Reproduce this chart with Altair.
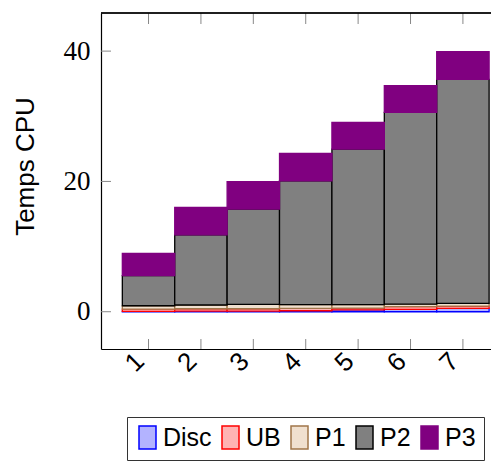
import altair as alt
import pandas as pd

# ---- data ----
categories = [1, 2, 3, 4, 5, 6, 7]
series = ["Disc", "UB", "P1", "P2", "P3"]
disc = [0.05, 0.10, 0.10, 0.15, 0.30, 0.36, 0.52]
ub = [0.35, 0.36, 0.36, 0.37, 0.26, 0.41, 0.35]
p1 = [0.52, 0.57, 0.67, 0.56, 0.52, 0.41, 0.42]
p2 = [4.61, 10.77, 14.63, 19.02, 23.89, 29.42, 34.38]
p3 = [3.43, 4.20, 4.19, 4.20, 4.10, 4.10, 4.23]
y_ticks = [0, 20, 40]

fills = ["#b3b3ff", "#ffb3b3", "#f0e0cf", "#808080", "#800080"]
strokes = ["#0000ff", "#ff0000", "#a0764a", "#000000", "#800080"]

values = {"Disc": disc, "UB": ub, "P1": p1, "P2": p2, "P3": p3}
rows = []
cum = [0.0] * len(categories)
for s_i, s in enumerate(series):
    for i, c in enumerate(categories):
        v = values[s][i]
        rows.append({"series": s, "order": s_i, "cat": c,
                     "lo": c - 0.5, "hi": c + 0.5,
                     "y0": cum[i], "y1": cum[i] + v})
        cum[i] += v
df = pd.DataFrame(rows)

W, H = 390, 336
xdom = [0.093, 7.536]
ydom = [-5.72, 45.85]
xs = alt.Scale(domain=xdom, nice=False, zero=False)
ys = alt.Scale(domain=ydom, nice=False, zero=False)

legend = alt.Legend(
    orient="none", legendX=26, legendY=404, direction="horizontal", title=None,
    symbolType="M-1,-1.35H1V1.35H-1Z", symbolSize=289, symbolStrokeWidth=1.5,
    symbolOpacity=1,
    labelFont="Liberation Sans", labelFontSize=25, labelColor="black",
    labelOffset=3, columnPadding=6, padding=8,
    strokeColor="#333333", fillColor="white", cornerRadius=0, labelLimit=0,
)

bars = alt.Chart(df).mark_bar(strokeWidth=1.3, opacity=1).encode(
    x=alt.X("lo:Q", scale=xs, axis=alt.Axis(
        values=categories, labelAngle=315, labelAlign="center",
        labelBaseline="middle", labelPadding=13, labelOffset=-14,
        labelFont="Liberation Sans", labelFontSize=26, labelColor="black",
        labelOverlap=False, labelBound=False, labelFlush=False,
        ticks=False, tickSize=0, grid=False, domain=True,
        domainColor="black", domainWidth=1.2, title=None)),
    x2="hi:Q",
    y=alt.Y("y0:Q", scale=ys, axis=alt.Axis(
        values=y_ticks, labelFont="Liberation Serif", labelFontSize=27,
        labelColor="black", labelPadding=11, labelAlign="right",
        ticks=False, tickSize=0, grid=False, domain=True,
        domainColor="black", domainWidth=1.2,
        title="Temps CPU", titleFont="Liberation Sans", titleFontSize=26,
        titleFontWeight="normal", titleColor="black", titleAngle=270,
        titleAlign="center", titleBaseline="alphabetic",
        titleX=-68, titleY=153)),
    y2="y1:Q",
    fill=alt.Fill("series:N", scale=alt.Scale(domain=series, range=fills), legend=legend),
    stroke=alt.Stroke("series:N", scale=alt.Scale(domain=series, range=strokes), legend=legend),
    order=alt.Order("order:Q"),
)

ytick_df = pd.DataFrame({"t": y_ticks})
xtick_df = pd.DataFrame({"c": categories})

ytick_rules = alt.Chart(ytick_df).mark_rule(color="#888888", strokeWidth=1).encode(
    y=alt.Y("t:Q", scale=ys), x=alt.value(0), x2=alt.value(10))
xtick_bottom = alt.Chart(xtick_df).mark_rule(color="#888888", strokeWidth=1).encode(
    x=alt.X("c:Q", scale=xs), y=alt.value(H - 10), y2=alt.value(H))
xtick_top = alt.Chart(xtick_df).mark_rule(color="#888888", strokeWidth=1).encode(
    x=alt.X("c:Q", scale=xs), y=alt.value(0), y2=alt.value(11))
top_line = alt.Chart(ytick_df).mark_rule(color="black", strokeWidth=1.2).encode(
    x=alt.value(0), x2=alt.value(W), y=alt.value(0))

chart = alt.layer(bars, ytick_rules, xtick_bottom, xtick_top, top_line).properties(
    width=W, height=H,
    autosize=alt.AutoSizeParams(type="none"),
    padding={"left": 93, "top": 5, "right": 0, "bottom": 116},
).configure_view(stroke=None)

chart.save("out.html", embed_options={"renderer": "svg", "actions": False})
